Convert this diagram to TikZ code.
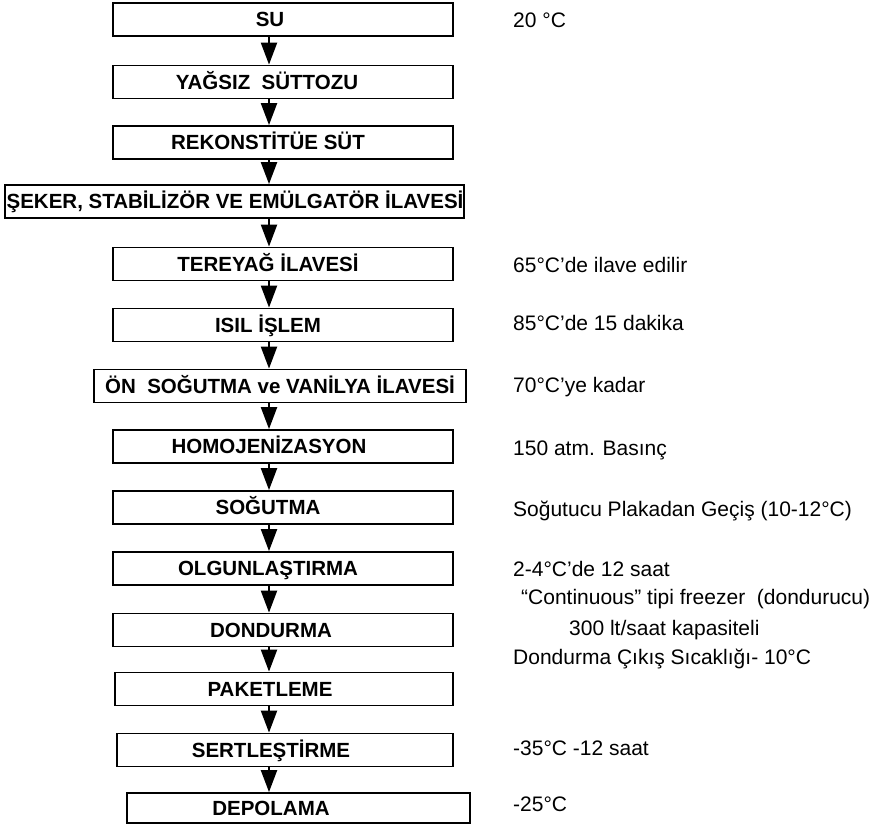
\documentclass[tikz,border=0pt]{standalone}
\usepackage{fontspec}
\setmainfont{Liberation Sans}
\usetikzlibrary{arrows.meta}
\begin{document}
\begin{tikzpicture}[x=1pt,y=-1pt,
  box/.style={draw,rectangle,line width=1.8pt,minimum height=33pt,inner sep=0pt},
  lbl/.style={inner sep=0pt,text height=14.7pt,text depth=0pt,font=\fontsize{20.5}{24}\selectfont\bfseries},
  note/.style={anchor=west,inner sep=0pt,text height=15pt,text depth=0pt,font=\fontsize{21}{25}\selectfont},
  arr/.style={line width=2.2pt,-{Triangle[length=22pt,width=16pt]}}]
\fill[white] (0,0) rectangle (888,824);
\useasboundingbox (0,0) rectangle (888,824);
\coordinate (ax) at (269,0);
% boxes
\node[box,minimum width=340pt] (b1) at (283,19.5) {};
\node[box,minimum width=340pt] (b2) at (283,82) {};
\node[box,minimum width=340pt] (b3) at (283,142.5) {};
\node[box,minimum width=459pt] (b4) at (234.5,201.5) {};
\node[box,minimum width=340pt] (b5) at (283,264) {};
\node[box,minimum width=340pt] (b6) at (283,325) {};
\node[box,minimum width=372pt] (b7) at (280,386) {};
\node[box,minimum width=340pt] (b8) at (283,446.5) {};
\node[box,minimum width=340pt] (b9) at (283,507.5) {};
\node[box,minimum width=340pt] (b10) at (283,568.5) {};
\node[box,minimum width=340pt] (b11) at (283,630) {};
\node[box,minimum width=338pt] (b12) at (284,689) {};
\node[box,minimum width=336pt] (b13) at (285,750) {};
\node[box,minimum width=343pt,minimum height=30pt] (b14) at (298.5,808) {};
% labels
\node[lbl] (t1) at (270,19.5) {SU};
\node[lbl] (t2) at (267,82) {YAĞSIZ\ \ SÜTTOZU};
\node[lbl] (t3) at (268,142.5) {REKONSTİTÜE SÜT};
\node[lbl] (t4) at (235,201.5) {ŞEKER, STABİLİZÖR VE EMÜLGATÖR İLAVESİ};
\node[lbl] (t5) at (268,264) {TEREYAĞ İLAVESİ};
\node[lbl] (t6) at (268,325) {ISIL İŞLEM};
\node[lbl] (t7) at (280,386) {ÖN\ \ SOĞUTMA ve VANİLYA İLAVESİ};
\node[lbl] (t8) at (269,446.5) {HOMOJENİZASYON};
\node[lbl] (t9) at (268,507.5) {SOĞUTMA};
\node[lbl] (t10) at (268,568.5) {OLGUNLAŞTIRMA};
\node[lbl] (t11) at (271,630) {DONDURMA};
\node[lbl] (t12) at (270,689) {PAKETLEME};
\node[lbl] (t13) at (271,750) {SERTLEŞTİRME};
\node[lbl] (t14) at (271,808) {DEPOLAMA};
% arrows
\draw[arr] (ax |- b1.south) -- (ax |- b2.north);
\draw[arr] (ax |- b2.south) -- (ax |- b3.north);
\draw[arr] (ax |- b3.south) -- (ax |- b4.north);
\draw[arr] (ax |- b4.south) -- (ax |- b5.north);
\draw[arr] (ax |- b5.south) -- (ax |- b6.north);
\draw[arr] (ax |- b6.south) -- (ax |- b7.north);
\draw[arr] (ax |- b7.south) -- (ax |- b8.north);
\draw[arr] (ax |- b8.south) -- (ax |- b9.north);
\draw[arr] (ax |- b9.south) -- (ax |- b10.north);
\draw[arr] (ax |- b10.south) -- (ax |- b11.north);
\draw[arr] (ax |- b11.south) -- (ax |- b12.north);
\draw[arr] (ax |- b12.south) -- (ax |- b13.north);
\draw[arr] (ax |- b13.south) -- (ax |- b14.north);
% notes
\node[note] (n1) at (513,20) {20 °C};
\node[note] (n5) at (513,265) {65°C'de ilave edilir};
\node[note] (n6) at (513,323) {85°C'de 15 dakika};
\node[note] (n7) at (513,385) {70°C'ye kadar};
\node[note] (n8) at (513,448) {150 atm. Basınç};
\node[note] (n9) at (513,509) {Soğutucu Plakadan Geçiş (10-12°C)};
\node[note] (n10) at (513,569) {2-4°C'de 12 saat};
\node[note] (n11a) at (521,597) {“Continuous” tipi freezer\ \ (dondurucu)};
\node[note] (n11b) at (569,628) {300 lt/saat kapasiteli};
\node[note] (n11c) at (513,657) {Dondurma Çıkış Sıcaklığı- 10°C};
\node[note] (n13) at (513,748) {-35°C -12 saat};
\node[note] (n14) at (513,804) {-25°C};
\end{tikzpicture}
\end{document}
